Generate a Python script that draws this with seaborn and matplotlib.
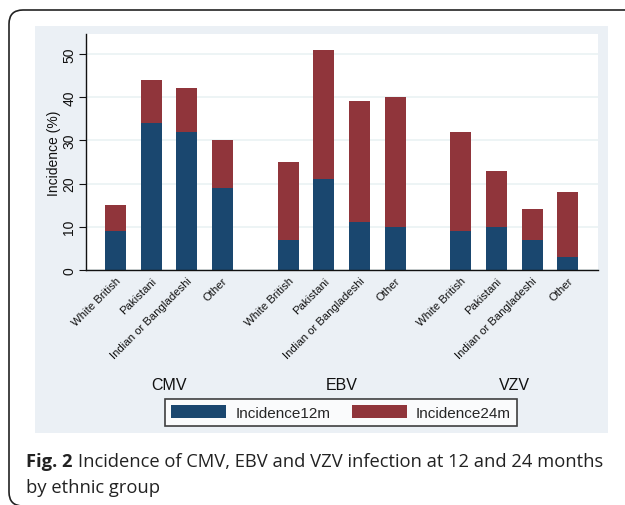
import matplotlib
matplotlib.use("Agg")
import matplotlib.pyplot as plt
from matplotlib.patches import Rectangle, FancyBboxPatch, Patch
import pandas as pd
import seaborn as sns

# data (stacked: 12m segment + extra 24m segment)
viruses = ["CMV", "EBV", "VZV"]
ethnic_groups = ["White British", "Pakistani", "Indian or Bangladeshi", "Other"]
inc12 = [9, 34, 32, 19, 7, 21, 11, 10, 9, 10, 7, 3]
inc24 = [6, 10, 10, 11, 18, 30, 28, 30, 23, 13, 7, 15]
y_ticks = [0, 10, 20, 30, 40, 50]
legend_labels = ["Incidence12m", "Incidence24m"]

NAVY = "#1a476f"
MAROON = "#90353b"
REGION = "#ebf0f5"
W, H = 625, 506
GAP = 4.85  # distance between the first bars of two virus groups


def fx(px):
    return px / W


def fy(py):
    return 1 - py / H


rows = []
for g, virus in enumerate(viruses):
    for i, eth in enumerate(ethnic_groups):
        k = g * len(ethnic_groups) + i
        rows.append({"virus": virus, "ethnic": eth, "pos": g * GAP + i,
                     "m12": inc12[k], "m24": inc24[k]})
df = pd.DataFrame(rows)
df["total"] = df["m12"] + df["m24"]

sns.set_theme(style="white")
plt.rcParams["font.family"] = ["Liberation Sans", "DejaVu Sans"]

fig = plt.figure(figsize=(W / 100, H / 100), dpi=100)

# outer rounded frame of the figure panel
frame = FancyBboxPatch((9 / 100, (H - 507) / 100), 7.0, 4.96,
                       boxstyle="round,pad=0,rounding_size=0.14",
                       transform=fig.dpi_scale_trans, fill=False,
                       edgecolor="#222222", linewidth=1.2, zorder=-2)
fig.patches.append(frame)

# stata style graph region
fig.patches.append(Rectangle((fx(35), fy(434)), fx(608) - fx(35), (434 - 27) / H,
                             transform=fig.transFigure, facecolor=REGION,
                             edgecolor="none", zorder=-1))

ax = fig.add_axes([fx(86), fy(271), (598 - 86) / W, (271 - 35) / H])
ax.set_facecolor("white")

sns.barplot(data=df, x="pos", y="total", native_scale=True, width=0.59,
            color=MAROON, saturation=1, errorbar=None, linewidth=0, ax=ax)
sns.barplot(data=df, x="pos", y="m12", native_scale=True, width=0.59,
            color=NAVY, saturation=1, errorbar=None, linewidth=0, ax=ax)

ax.set_xlim(-0.83, 13.55)
ax.set_ylim(0, 54.6)
ax.set_xticks(df["pos"])
ax.set_xticklabels(df["ethnic"], rotation=45, ha="right",
                   rotation_mode="anchor", fontsize=8.2, color="#111111")
ax.tick_params(axis="x", length=0, pad=4)
ax.set_yticks(y_ticks)
ax.set_yticklabels(y_ticks, rotation=90, va="center", fontsize=10, color="#111111")
ax.tick_params(axis="y", left=True, length=5, width=0.8, pad=2, color="#111111")
ax.set_xlabel("")
ax.set_ylabel("Incidence (%)", fontsize=10, labelpad=1, color="#111111")

ax.yaxis.grid(True, color="#eaf2f3", linewidth=1.2)
ax.set_axisbelow(True)
for side in ["top", "right"]:
    ax.spines[side].set_visible(False)
for side in ["left", "bottom"]:
    ax.spines[side].set_color("#111111")
    ax.spines[side].set_linewidth(1.0)

# virus group labels under each block of bars
for g, virus in enumerate(viruses):
    xd = g * GAP + (len(ethnic_groups) - 1) / 2
    xp = ax.transData.transform((xd, 0))[0] / W
    fig.text(xp, fy(385), virus, ha="center", va="center", fontsize=11.5,
             color="#111111")

handles = [Patch(facecolor=NAVY, edgecolor="none"),
           Patch(facecolor=MAROON, edgecolor="none")]
leg = fig.legend(handles, legend_labels, loc="center",
                 bbox_to_anchor=(fx(341), fy(413.5)), ncol=2, frameon=True,
                 fancybox=False, edgecolor="#111111", fontsize=11,
                 handlelength=3.6, handleheight=0.9, handletextpad=0.6,
                 columnspacing=1.4, borderpad=0.38)
leg.get_frame().set_linewidth(1.2)

# caption
cap_font = ["Open Sans", "DejaVu Sans"]
bold = fig.text(fx(26), fy(467), "Fig. 2", fontsize=13.2, fontweight="bold",
                family=cap_font, va="baseline", color="#222222")
fig.canvas.draw()
bb = bold.get_window_extent()
fig.text((bb.x1 + 5) / W, fy(467),
         "Incidence of CMV, EBV and VZV infection at 12 and 24 months",
         fontsize=13.2, family=cap_font, va="baseline", color="#222222")
fig.text(fx(26), fy(493), "by ethnic group", fontsize=13.2, family=cap_font,
         va="baseline", color="#222222")

fig.savefig("out.png", dpi=100)
